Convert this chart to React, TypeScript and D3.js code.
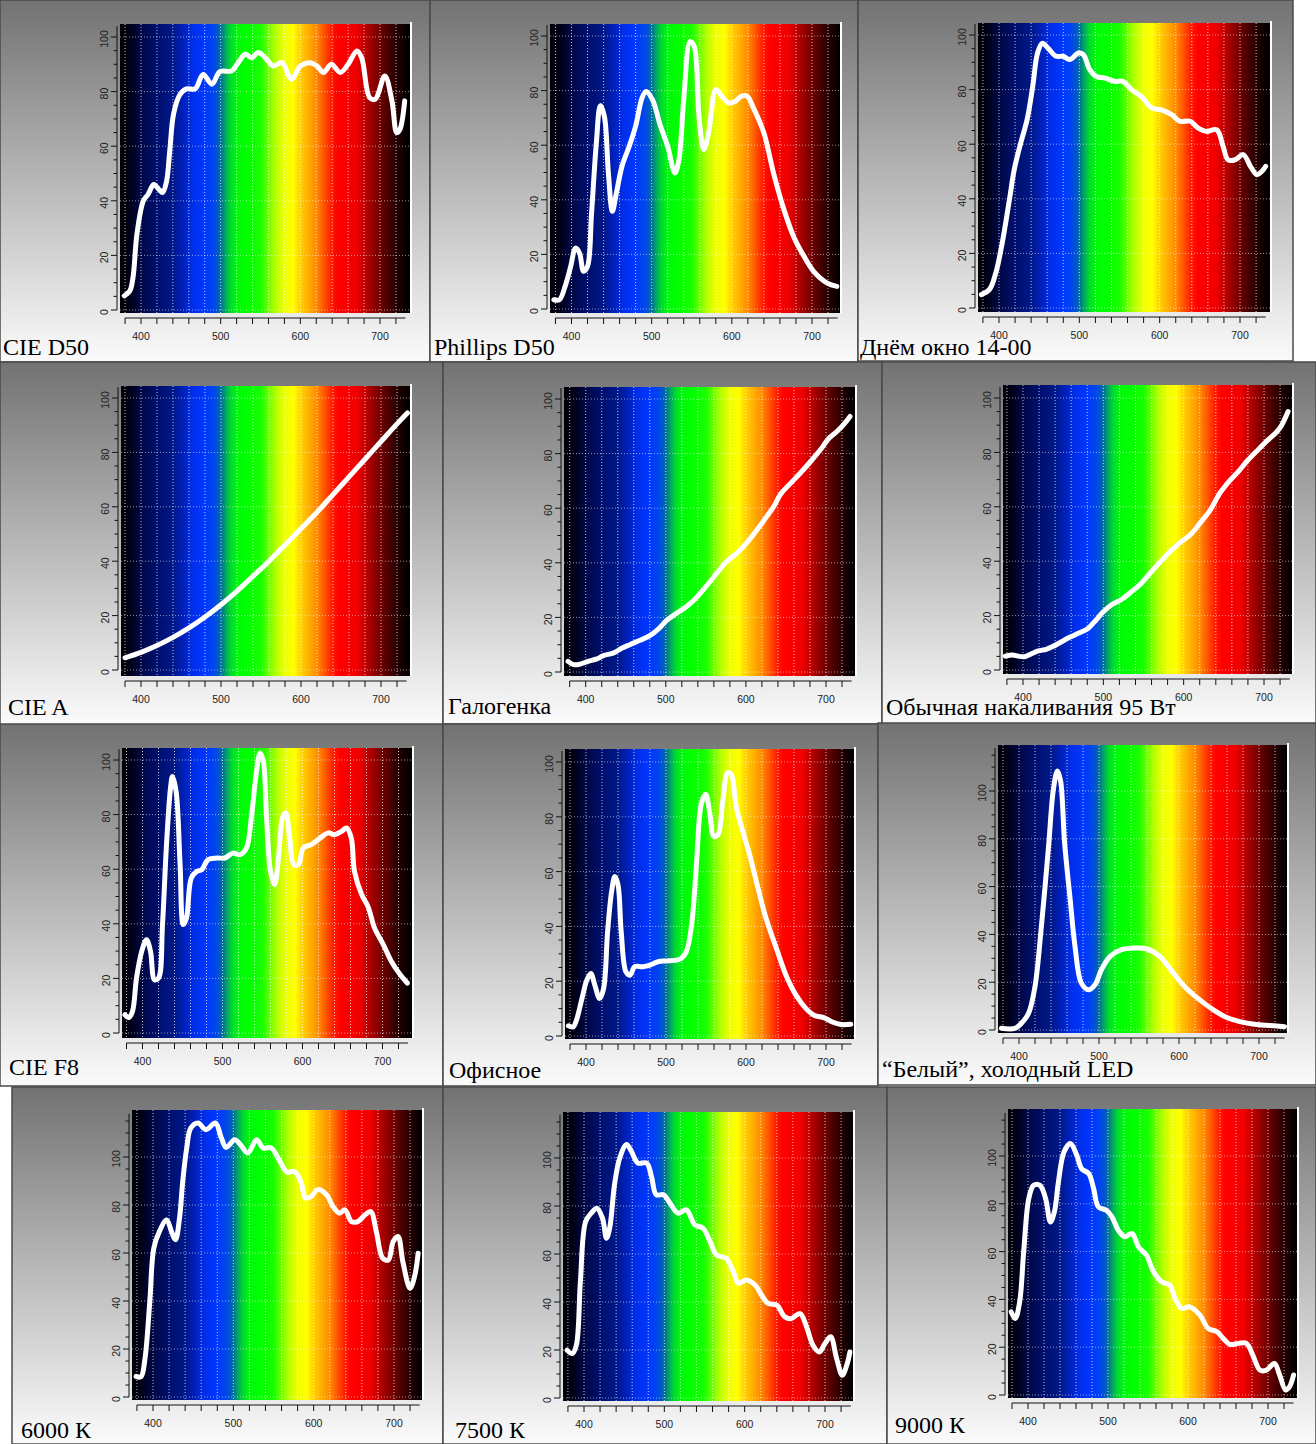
import React from 'react';
import * as d3 from 'd3';

type Pt = [number, number];

// spectra: [wavelength nm, relative value]
const cieD50: Pt[] = [
  [379, 5.2], [386, 7], [390, 12], [395, 28], [403, 40], [409, 42.4], [416, 46], [423, 44],
  [427, 43], [432, 47], [436, 58], [441, 72], [449, 79], [457, 81], [468, 81], [478, 86.3],
  [489, 82.7], [499, 87.3], [514, 87.6], [522, 90.6], [531, 93.7], [539, 92.4], [547, 94.3],
  [556, 92.4], [566, 89.4], [577, 90.6], [589, 84.5], [600, 89.4], [612, 90.6], [621, 89.4],
  [629, 87], [639, 90], [650, 87], [660, 90], [671, 94.9], [677, 92.4], [687, 77.8],
  [694, 77.2], [706, 85.7], [715, 76.6], [721, 65], [725, 66.2], [731, 76.6],
];

const phillipsD50: Pt[] = [
  [378, 3.4], [385, 3.4], [392, 8.3], [399, 15.6], [405, 22.3], [410, 20.5], [415, 13.8],
  [420, 15.6], [425, 35], [431, 60.8], [436, 74.5], [441, 70.6], [446, 49.8], [451, 35.8],
  [456, 42.5], [463, 52.3], [472, 59.6], [480, 67], [488, 77.3], [493, 79.7], [501, 76.7],
  [511, 67], [520, 59.6], [529, 49.8], [534, 54.7], [540, 76.7], [548, 98], [553, 96.2],
  [559, 70.6], [565, 58.4], [571, 64.5], [580, 80.4], [586, 78.5], [596, 75.5], [604, 76],
  [612, 78], [619, 78], [627, 73.6], [640, 64.5], [652, 49.8], [665, 36.4], [677, 26.6],
  [690, 19.3], [702, 13.8], [719, 9.5], [731, 8.3],
];

const dayWindow: Pt[] = [
  [378, 4.9], [388, 6.7], [396, 12.8], [404, 23.8], [413, 39.7], [419, 50.7], [427, 60.4],
  [435, 69], [442, 81.2], [448, 93.4], [454, 97], [461, 95.2], [471, 92.2], [480, 92.2],
  [488, 91], [499, 93.4], [505, 92.8], [513, 87.3], [521, 84.8], [532, 84.2], [544, 83],
  [554, 83], [565, 80], [577, 77.5], [590, 73.3], [602, 72.6], [615, 70.8], [625, 68.4],
  [638, 68.4], [648, 65.9], [658, 64.7], [671, 65.3], [679, 59.2], [685, 54.3], [694, 54.3],
  [704, 56.2], [713, 51.9], [721, 48.8], [727, 50], [732, 51.9],
];

const cieA: Pt[] = [
  [380, 4.5], [400, 6.5], [420, 9], [440, 12], [460, 15.5], [480, 19.5], [500, 24],
  [520, 29], [540, 34.5], [560, 40], [580, 46], [600, 52], [620, 58], [640, 64.5],
  [660, 71], [680, 77.5], [700, 84], [720, 90.5], [733, 94.5],
];

const halogen: Pt[] = [
  [378, 3.9], [385, 2.7], [393, 2.9], [403, 3.9], [414, 4.8], [422, 6], [435, 7], [445, 8.7],
  [455, 10], [468, 11.6], [480, 13.3], [491, 15.8], [501, 18.9], [514, 21.6], [526, 24],
  [539, 27.5], [551, 31.6], [564, 36.3], [576, 40.5], [589, 43.6], [601, 47.3], [614, 52.1],
  [626, 57], [635, 60.7], [643, 65], [656, 69.2], [668, 72.9], [681, 77.2], [693, 81.4],
  [704, 85.7], [714, 88.2], [722, 90.6], [730, 93.6],
];

const incandescent: Pt[] = [
  [378, 5.1], [387, 5.5], [394, 5.1], [402, 4.9], [410, 5.9], [419, 7], [429, 7.6], [437, 8.6],
  [448, 10.4], [458, 12], [469, 13.5], [481, 15.3], [491, 18.4], [500, 21.4], [510, 23.9],
  [523, 26], [535, 28.8], [548, 32.1], [560, 36.2], [573, 40.4], [585, 44.1], [597, 47.2],
  [610, 50.2], [620, 53.9], [633, 58.8], [645, 65], [656, 69.2], [668, 72.9], [680, 77.2],
  [693, 81.1], [705, 84.6], [716, 87.6], [722, 90], [730, 95],
];

const cieF8: Pt[] = [
  [378, 6.7], [383, 5.7], [387.5, 7.9], [392.5, 20.1], [399, 29.9], [405, 34.2], [410, 29.9],
  [415, 19.5], [420, 20.1], [425, 39.7], [430, 69], [435, 89.7], [437.5, 94], [442, 88.5],
  [447, 61.7], [451, 39.7], [455, 42.1], [461, 56.8], [468, 59.2], [474, 59.8], [482, 63.5],
  [493, 64.1], [503, 64.1], [513, 65.9], [522, 65.3], [530, 67.8], [536, 78.8], [542, 94.6],
  [547, 102.6], [551, 99.5], [555, 79.4], [560, 59.2], [565, 54.3], [570, 64.1], [575, 78.8],
  [579, 80.7], [584, 71.4], [589, 61.7], [595, 61.7], [601, 67.8], [611, 69], [622, 71.4],
  [632, 73.3], [640, 72.6], [649, 73.9], [655, 75.1], [661, 71.4], [665, 59.2], [674, 50.7],
  [682, 46.2], [690, 38.5], [701, 32.4], [711, 26.3], [722, 21.4], [731, 18.3],
];

const office: Pt[] = [
  [378, 3.7], [384, 3.3], [388, 5.7], [395, 13.7], [401, 20.4], [406, 22.8], [411, 18.6],
  [417, 13.7], [422, 17.3], [427, 38.1], [432, 52.7], [436, 58.2], [440, 55.2], [444, 38.1],
  [450, 23.4], [455, 22.2], [461, 25.3], [471, 25.3], [480, 25.9], [490, 27.1], [500.5, 27.4],
  [511, 27.6], [519, 28.3], [525.5, 30.8], [532, 40.5], [538, 62.5], [544, 84.5], [549.5, 88.2],
  [555, 80.8], [559.5, 72.9], [565, 73.5], [571, 85.7], [577, 96.1], [581.5, 95.5], [588, 83.3],
  [596, 74.7], [604.5, 66.2], [615, 54], [625, 43], [638, 32], [650, 22.2], [662.5, 14.9],
  [675, 10], [685, 7.6], [698, 6.6], [708, 5.1], [719, 4.2], [731, 4.3],
];

const coldLed: Pt[] = [
  [378, 0.7], [395, 0.7], [403, 2.8], [412, 7], [420, 18.2], [428, 43.4], [437, 77],
  [443, 100.7], [448, 108.4], [452, 104.2], [457, 78.3], [464, 54.5], [470, 35], [478, 19.6],
  [487, 16.8], [495, 18.9], [503, 25.2], [514, 30.8], [528, 33.6], [543, 34.3], [559, 34],
  [576, 30.8], [593, 23.8], [609, 17.5], [626, 12.6], [643, 8.4], [659, 5.3], [676, 3.5],
  [692, 2.5], [709, 2], [732, 1.4],
];

const k6000: Pt[] = [
  [379, 8.6], [385, 8.4], [390, 16], [396, 39.7], [401, 62], [408, 69], [417, 73.8], [423, 69],
  [428, 65.5], [433, 74.5], [437, 89.8], [442, 103.8], [447, 112], [456, 114.2], [466, 111.4],
  [477.6, 114.2], [485, 108], [491, 104], [501.7, 107.2], [508.7, 105.2], [518, 101.7],
  [529, 107.2], [537, 103.8], [547, 103.8], [558, 98.2], [567, 93.7], [576, 94], [584, 89.8],
  [590, 82.9], [597, 83.6], [605, 86.4], [616, 84.3], [624, 79.4], [632, 76.6], [639, 78],
  [647, 73.1], [655, 73.1], [664, 75.9], [671, 77.3], [678, 68.9], [686, 57.8], [693, 57.1],
  [699, 64.8], [705, 66.9], [711, 56.4], [720, 45.3], [726, 50.8], [730, 59.9],
];

const k7500: Pt[] = [
  [379, 19.9], [385.5, 18.5], [390.5, 22], [395.5, 48.5], [402, 73.5], [409, 77], [416, 79.1],
  [423, 74.9], [428, 66.6], [432, 70.8], [438, 88.9], [444.5, 100], [453, 105.6], [459, 102.8],
  [467, 97.9], [478, 97.9], [484, 92.3], [490, 84.7], [499, 84.7], [507, 81.2], [517, 77],
  [527.5, 78.4], [538, 72.1], [548, 70.8], [557, 65.2], [565, 59.6], [577, 58.2], [586, 52.6],
  [592, 47.8], [602, 49.2], [613, 47.1], [621, 42.9], [629, 39.4], [640, 38.7], [650, 33.8],
  [658, 33.1], [669, 35.2], [677, 29.7], [685, 22], [693, 19.2], [700, 22.7], [707, 25.5],
  [714.5, 16.4], [721.5, 9.5], [727, 13.6], [731, 19.2],
];

const k9000: Pt[] = [
  [379, 34.8], [384, 32], [389.6, 39], [394.6, 59.9], [401, 82.2], [407, 87.7], [415, 87.7],
  [422, 82.2], [428, 72.4], [433, 76.6], [438, 89.1], [445, 101.7], [453, 105.2], [461, 100.3],
  [467, 94.7], [476, 92.6], [482, 86.4], [488, 78.7], [498, 77.3], [505, 74.5], [513, 68.9],
  [521, 66.2], [530, 67.6], [538, 62], [548, 58.5], [557, 51.5], [567, 47.4], [577, 46],
  [584, 40.4], [592, 36.2], [602, 36.9], [615, 33.4], [625, 27.9], [636, 26.5], [644, 23.7],
  [652, 21.2], [663, 21.6], [673, 21.6], [681, 16.7], [690, 10.4], [698, 10.4], [708, 13.2],
  [714.5, 8.4], [722, 2.1], [727, 3.5], [732, 8.4],
];

const titles = [
  'CIE D50', 'Phillips D50', 'Днём окно 14-00',
  'CIE A', 'Галогенка', 'Обычная накаливания 95 Вт',
  'CIE F8', 'Офисное', '“Белый”, холодный LED',
  '6000 К', '7500 К', '9000 К',
];
const series = [
  cieD50, phillipsD50, dayWindow,
  cieA, halogen, incandescent,
  cieF8, office, coldLed,
  k6000, k7500, k9000,
];

const xTickLabels = [400, 500, 600, 700];
const yTickLabels = [0, 20, 40, 60, 80, 100];

// wavelength -> colour of the painted spectrum behind each plot
const spectrumStops: [number, string][] = [
  [372, '#000005'], [386, '#000018'], [400, '#000845'], [420, '#000f6e'], [440, '#001888'],
  [452, '#0020b8'], [464, '#002ee8'], [478, '#0036ff'], [490, '#0044f0'], [496, '#0058c8'],
  [501, '#007590'], [506, '#00a860'], [512, '#00d830'], [520, '#00f80c'], [532, '#00ff00'],
  [550, '#18ff00'], [559, '#66ff00'], [569, '#b8ff00'], [580, '#eeff00'], [591, '#ffff00'],
  [599, '#ffd400'], [610, '#ffae00'], [621, '#ff8600'], [630, '#ff5200'], [639, '#ff1c00'],
  [647, '#ff0000'], [670, '#f00000'], [681, '#c00000'], [691, '#920000'], [702, '#680000'],
  [712, '#420000'], [722, '#200000'], [731, '#080000'], [742, '#000000'],
];

// layout of each pasted screenshot
type Layout = {
  box: [number, number, number, number];
  plot: [number, number, number, number];
  x400: number; x700: number; y0: number; y100: number;
  yMax: number; tx: number; ty: number;
};

const layouts: Layout[] = [
  { box: [0, 0, 430, 362], plot: [120, 24, 411, 313], x400: 141, x700: 380, y0: 310, y100: 37, yMax: 104, tx: 3, ty: 355 },
  { box: [430, 0, 428, 362], plot: [550, 24, 841, 313], x400: 571.5, x700: 812, y0: 309, y100: 36, yMax: 104, tx: 434, ty: 355 },
  { box: [858, 0, 435, 361], plot: [978, 23, 1271, 312], x400: 999, x700: 1240, y0: 308, y100: 35, yMax: 104, tx: 860, ty: 355 },
  { box: [0, 362, 443, 363], plot: [121, 386, 411, 676], x400: 141, x700: 381, y0: 670, y100: 398, yMax: 104, tx: 8, ty: 715 },
  { box: [443, 362, 439, 362], plot: [564, 387, 856, 676], x400: 585.7, x700: 826, y0: 672, y100: 399, yMax: 104, tx: 448, ty: 714 },
  { box: [882, 362, 434, 362], plot: [1003, 385, 1293, 674], x400: 1023, x700: 1264, y0: 670, y100: 398, yMax: 104, tx: 886, ty: 715 },
  { box: [0, 724, 443, 362], plot: [122, 748, 413, 1038], x400: 142.5, x700: 382.5, y0: 1033, y100: 760, yMax: 104, tx: 9, ty: 1075 },
  { box: [443, 724, 435, 362], plot: [565, 749, 855, 1039], x400: 586, x700: 826, y0: 1036, y100: 762, yMax: 104, tx: 449, ty: 1078 },
  { box: [878, 723, 438, 362], plot: [998, 745, 1288, 1033], x400: 1019, x700: 1259, y0: 1030, y100: 791, yMax: 118, tx: 882, ty: 1077 },
  { box: [12, 1087, 431, 357], plot: [132, 1110, 423, 1400], x400: 153, x700: 394, y0: 1397, y100: 1157, yMax: 118, tx: 21, ty: 1438 },
  { box: [443, 1087, 444, 357], plot: [563, 1112, 854, 1401], x400: 584, x700: 825, y0: 1398, y100: 1158, yMax: 118, tx: 455, ty: 1438 },
  { box: [887, 1087, 429, 357], plot: [1008, 1109, 1298, 1398], x400: 1028, x700: 1268, y0: 1395, y100: 1156, yMax: 118, tx: 895, ty: 1433 },
];

const tickFont = '"Liberation Sans", Arial, sans-serif';
const titleFont = '"Liberation Serif", "Times New Roman", serif';

function SpectrumPanel({ idx }: { idx: number }) {
  const L = layouts[idx];
  const data = series[idx];
  const [bx, by, bw, bh] = L.box;
  const [pl, pt, pr, pb] = L.plot;
  const x = d3.scaleLinear([400, 700], [L.x400, L.x700]);
  const y = d3.scaleLinear([0, 100], [L.y0, L.y100]);
  const wlLeft = x.invert(pl);
  const wlRight = x.invert(pr);
  const offset = d3.scaleLinear([wlLeft, wlRight], [0, 1]).clamp(true);

  const line = d3
    .line<Pt>()
    .x((d) => x(d[0]))
    .y((d) => y(d[1]))
    .curve(d3.curveCatmullRom.alpha(0.5));

  const axisX = pl - 3;
  const axisY = pb + 5;
  const gridX = d3.range(380, 730, 20);
  const gridY = d3.range(0, L.yMax, 20).filter((v) => y(v) > pt + 2);
  const minorY = d3.range(0, L.yMax, 5);

  return (
    <g>
      <rect x={bx} y={by} width={bw} height={bh} fill="url(#panelBg)" stroke="#4a4a4a" strokeWidth={1.5} />
      <defs>
        <linearGradient id={`spec${idx}`} x1="0" x2="1" y1="0" y2="0">
          {spectrumStops.map(([wl, c], i) => (
            <stop key={i} offset={offset(wl)} stopColor={c} />
          ))}
        </linearGradient>
        <clipPath id={`clip${idx}`}>
          <rect x={pl} y={pt} width={pr - pl} height={pb - pt} />
        </clipPath>
      </defs>
      <rect x={pl} y={pt} width={pr - pl} height={pb - pt} fill={`url(#spec${idx})`} />
      <g stroke="#ffffff" strokeOpacity={0.75} strokeWidth={1} strokeDasharray="1 2">
        {gridX.map((v) => (
          <line key={`gx${v}`} x1={x(v)} x2={x(v)} y1={pt} y2={pb} />
        ))}
        {gridY.map((v) => (
          <line key={`gy${v}`} x1={pl} x2={pr} y1={y(v)} y2={y(v)} strokeOpacity={0.55} />
        ))}
      </g>
      <line x1={pr} x2={pr} y1={pt - 2} y2={pb} stroke="#ffffff" strokeWidth={2} />
      <path
        d={line(data) ?? ''}
        fill="none"
        stroke="#ffffff"
        strokeWidth={5}
        strokeLinecap="round"
        strokeLinejoin="round"
        clipPath={`url(#clip${idx})`}
      />
      {/* y axis */}
      <g stroke="#111" strokeWidth={1}>
        <line x1={axisX} x2={axisX} y1={y(L.yMax)} y2={y(0)} />
        {minorY.map((v) => (
          <line key={`ty${v}`} x1={axisX - (v % 20 === 0 ? 6 : 3.5)} x2={axisX} y1={y(v)} y2={y(v)} />
        ))}
      </g>
      {yTickLabels.map((v) => (
        <text
          key={`ly${v}`}
          transform={`translate(${axisX - 13},${y(v) + 2}) rotate(-90)`}
          textAnchor="middle"
          dy="0.35em"
          fontFamily={tickFont}
          fontSize={10.5}
          fill="#222"
        >
          {v}
        </text>
      ))}
      {/* x axis */}
      <g stroke="#111" strokeWidth={1}>
        <line x1={x(380)} x2={x(732)} y1={axisY} y2={axisY} />
        {gridX.map((v) => (
          <line key={`tx${v}`} x1={x(v)} x2={x(v)} y1={axisY} y2={axisY + 6} />
        ))}
      </g>
      {xTickLabels.map((v) => (
        <text
          key={`lx${v}`}
          x={x(v)}
          y={axisY + 22}
          textAnchor="middle"
          fontFamily={tickFont}
          fontSize={10.5}
          fill="#222"
        >
          {v}
        </text>
      ))}
      <text x={L.tx} y={L.ty} fontFamily={titleFont} fontSize={24} fill="#000">
        {titles[idx]}
      </text>
    </g>
  );
}

export default function App() {
  return (
    <div>
      <style>{'body{margin:0}'}</style>
      <svg width={1316} height={1444} style={{ display: 'block', background: '#ffffff' }}>
        <defs>
          <linearGradient id="panelBg" x1="0" x2="0" y1="0" y2="1">
            <stop offset="0" stopColor="#727272" />
            <stop offset="0.45" stopColor="#b0b0b0" />
            <stop offset="1" stopColor="#fbfbfb" />
          </linearGradient>
        </defs>
        {layouts.map((_, i) => (
          <SpectrumPanel key={i} idx={i} />
        ))}
      </svg>
    </div>
  );
}
